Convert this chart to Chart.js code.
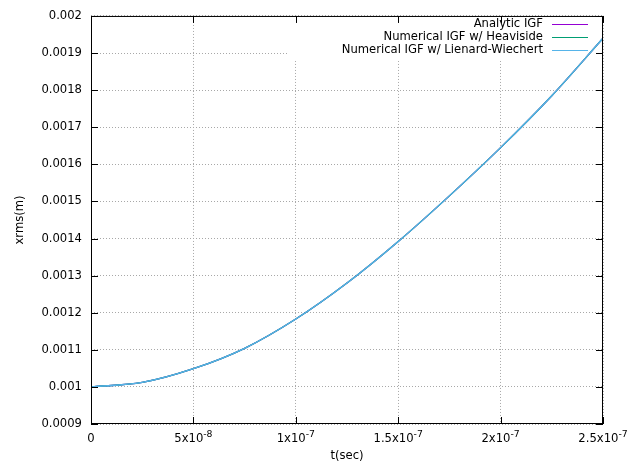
<!DOCTYPE html>
<html>
<head>
<meta charset="utf-8">
<script src="https://cdn.jsdelivr.net/npm/chart.js@4.4.0/dist/chart.umd.min.js"></script>
<style>
  body { margin: 0; background: #fff; }
  #wrap { width: 629px; height: 464px; }
</style>
</head>
<body>
<div id="wrap"><canvas id="myChart" width="629" height="464"></canvas></div>
<script>
// time samples (sec) and xrms values (m)
var tValues = [0, 2.5e-8, 5e-8, 7.5e-8, 1e-7, 1.25e-7, 1.5e-7, 1.75e-7, 2e-7, 2.25e-7, 2.5e-7];
var analyticIGF = [0.001000, 0.001012, 0.001049, 0.001104, 0.001183, 0.001280, 0.001392, 0.001515, 0.001645, 0.001785, 0.001940];
var heavisideIGF = [0.001000, 0.001012, 0.001049, 0.001104, 0.001183, 0.001280, 0.001392, 0.001515, 0.001645, 0.001785, 0.001940];
var lienardIGF = [0.001000, 0.001012, 0.001049, 0.001104, 0.001183, 0.001280, 0.001392, 0.001515, 0.001645, 0.001785, 0.001940];
var seriesNames = ["Analytic IGF", "Numerical IGF w/ Heaviside", "Numerical IGF w/ Lienard-Wiechert"];
var seriesColors = ["#9400d3", "#009e73", "#56b4e9"];

var FONT = "11.6px 'DejaVu Sans', sans-serif";
var SUPFONT = "9.3px 'DejaVu Sans', sans-serif";

function toPoints(ys) {
  return tValues.map(function (t, i) { return { x: t, y: ys[i] }; });
}

// gnuplot-like frame: border, mirrored inward ticks, x labels with exponents, key
var frame = {
  id: "frame",
  beforeDatasetsDraw: function (chart) {
    var c = chart.ctx, a = chart.chartArea;
    // opaque key box hides the grid behind it
    c.save();
    c.fillStyle = "#fff";
    c.fillRect(287, a.top + 1, a.right - 288, 44);
    c.restore();
  },
  afterDraw: function (chart) {
    var c = chart.ctx, a = chart.chartArea;
    var xs = chart.scales.x, ys = chart.scales.y;
    c.save();
    c.strokeStyle = "#000";
    c.lineWidth = 1;
    c.strokeRect(a.left + 0.5, a.top + 0.5, a.right - a.left - 1, a.bottom - a.top - 1);
    var tl = 7;
    c.beginPath();
    ys.ticks.forEach(function (tk) {
      var y = Math.round(ys.getPixelForValue(tk.value)) + 0.5;
      c.moveTo(a.left, y); c.lineTo(a.left + tl, y);
      c.moveTo(a.right, y); c.lineTo(a.right - tl, y);
    });
    xs.ticks.forEach(function (tk) {
      var x = Math.round(xs.getPixelForValue(tk.value)) + 0.5;
      c.moveTo(x, a.bottom); c.lineTo(x, a.bottom - tl);
      c.moveTo(x, a.top); c.lineTo(x, a.top + tl);
    });
    c.stroke();

    // x tick labels, e.g. 5x10^-8
    c.fillStyle = "#000";
    c.textBaseline = "alphabetic";
    xs.ticks.forEach(function (tk) {
      var v = tk.value, x = xs.getPixelForValue(v), base = a.bottom + 18;
      if (Math.abs(v) < 1e-20) {
        c.font = FONT; c.textAlign = "center";
        c.fillText("0", x, base);
        return;
      }
      var e = Math.floor(Math.log10(v) + 1e-9);
      var m = Number((v / Math.pow(10, e)).toFixed(2));
      var main = m + "x10", sup = String(e);
      c.font = FONT;
      var w1 = c.measureText(main).width;
      c.font = SUPFONT;
      var w2 = c.measureText(sup).width;
      var x0 = x - (w1 + w2) / 2;
      c.textAlign = "left";
      c.font = FONT;
      c.fillText(main, x0, base);
      c.font = SUPFONT;
      c.fillText(sup, x0 + w1, base - 5);
    });

    // axis titles
    c.font = FONT;
    c.textAlign = "center";
    c.textBaseline = "middle";
    c.fillText("t(sec)", (a.left + a.right) / 2, 456);
    c.translate(20, (a.top + a.bottom) / 2);
    c.rotate(-Math.PI / 2);
    c.fillText("xrms(m)", 0, 0);
    c.restore();

    // key: right-aligned text with line sample to its right
    c.save();
    c.font = FONT;
    c.textAlign = "right";
    c.textBaseline = "middle";
    seriesNames.forEach(function (name, i) {
      var y = 24 + i * 13;
      c.fillStyle = "#000";
      c.fillText(name, 543, y);
      c.strokeStyle = seriesColors[i];
      c.lineWidth = 1.2;
      c.beginPath();
      c.moveTo(552, y + 0.5); c.lineTo(588, y + 0.5);
      c.stroke();
    });
    c.restore();
  }
};

var ctx = document.getElementById("myChart").getContext("2d");

var data = {
  datasets: [
    { label: seriesNames[0], data: toPoints(analyticIGF), borderColor: seriesColors[0], order: 2 },
    { label: seriesNames[1], data: toPoints(heavisideIGF), borderColor: seriesColors[1], order: 1 },
    { label: seriesNames[2], data: toPoints(lienardIGF), borderColor: seriesColors[2], order: 0 }
  ]
};
data.datasets.forEach(function (ds) {
  ds.borderWidth = 1.3;
  ds.pointRadius = 0;
  ds.fill = false;
  ds.cubicInterpolationMode = "monotone";
});

var gridStyle = { color: "#a8a8a8", lineWidth: 1, drawTicks: false };

var options = {
  responsive: false,
  animation: false,
  devicePixelRatio: 1,
  layout: { padding: { top: 13, right: 26, left: 0, bottom: 0 } },
  plugins: {
    legend: { display: false },
    tooltip: { enabled: false }
  },
  scales: {
    x: {
      type: "linear",
      min: 0,
      max: 2.5e-7,
      grid: gridStyle,
      border: { display: false, dash: [1, 2] },
      ticks: { display: false, stepSize: 5e-8 },
      afterFit: function (s) { s.height = 40; }
    },
    y: {
      type: "linear",
      min: 0.0009,
      max: 0.002,
      grid: gridStyle,
      border: { display: false, dash: [1, 2] },
      ticks: {
        stepSize: 0.0001,
        color: "#000",
        padding: 9,
        font: { family: "'DejaVu Sans', sans-serif", size: 11.6 },
        callback: function (v) { return String(Number(v.toFixed(4))); }
      },
      afterFit: function (s) { s.width = 91; }
    }
  }
};

var myChart = new Chart(ctx, {
  type: "line",
  data: data,
  options: options,
  plugins: [frame]
});
</script>
</body>
</html>
